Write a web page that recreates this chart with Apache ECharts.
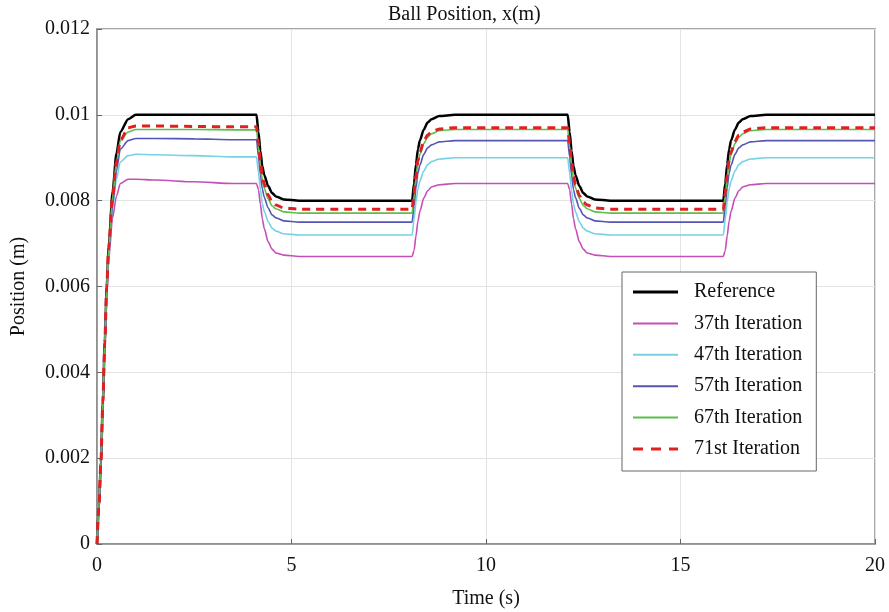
<!DOCTYPE html>
<html>
<head>
<meta charset="utf-8">
<script src="https://cdn.jsdelivr.net/npm/echarts@6/dist/echarts.min.js"></script>
<style>
  html, body { margin: 0; padding: 0; background: #fff; }
  #chart { width: 889px; height: 612px; }
</style>
</head>
<body>
<div id="chart"></div>
<script>
// Sample times (s): initial rise, then a step down / step up every ~4 s
const times = [
  0, 0.05, 0.1, 0.15, 0.2, 0.25, 0.3, 0.4, 0.5, 0.6, 0.8, 1.0, 1.5, 2.5, 3.5,
  4.1, 4.15, 4.2, 4.25, 4.3, 4.4, 4.5, 4.6, 4.8, 5.2, 6.5,
  8.1, 8.15, 8.2, 8.25, 8.3, 8.4, 8.5, 8.6, 8.8, 9.2, 10.5,
  12.1, 12.15, 12.2, 12.25, 12.3, 12.4, 12.5, 12.6, 12.8, 13.2, 14.5,
  16.1, 16.15, 16.2, 16.25, 16.3, 16.4, 16.5, 16.6, 16.8, 17.2, 18.5,
  20
];

// Ball position (m) for each curve at the sample times
const reference = [
  0, 0.0009, 0.0019, 0.0033, 0.0047, 0.0060, 0.0069, 0.0082, 0.0091, 0.0096, 0.0099, 0.0100, 0.0100, 0.0100, 0.0100,
  0.0100, 0.0096, 0.00916, 0.0088, 0.0086, 0.00834, 0.00818, 0.0081, 0.00803, 0.0080, 0.0080,
  0.0080, 0.0084, 0.00884, 0.0092, 0.0094, 0.00966, 0.00982, 0.0099, 0.00997, 0.0100, 0.0100,
  0.0100, 0.0096, 0.00916, 0.0088, 0.0086, 0.00834, 0.00818, 0.0081, 0.00803, 0.0080, 0.0080,
  0.0080, 0.0084, 0.00884, 0.0092, 0.0094, 0.00966, 0.00982, 0.0099, 0.00997, 0.0100, 0.0100,
  0.0100
];
const iter37 = [
  0, 0.0009, 0.0019, 0.0033, 0.0046, 0.0058, 0.0066, 0.0076, 0.0081, 0.0084, 0.0085, 0.0085, 0.00848, 0.00844, 0.0084,
  0.0084, 0.00826, 0.00792, 0.00758, 0.00735, 0.00704, 0.00687, 0.00678, 0.00673, 0.0067, 0.0067,
  0.0067, 0.00684, 0.00718, 0.00752, 0.00775, 0.00806, 0.00823, 0.00832, 0.00837, 0.0084, 0.0084,
  0.0084, 0.00826, 0.00792, 0.00758, 0.00735, 0.00704, 0.00687, 0.00678, 0.00673, 0.0067, 0.0067,
  0.0067, 0.00684, 0.00718, 0.00752, 0.00775, 0.00806, 0.00823, 0.00832, 0.00837, 0.0084, 0.0084,
  0.0084
];
const iter47 = [
  0, 0.0009, 0.0019, 0.0033, 0.0047, 0.0059, 0.0067, 0.0078, 0.0085, 0.0089, 0.00905, 0.00908, 0.00907, 0.00905, 0.00902,
  0.00902, 0.00866, 0.00826, 0.00793, 0.00775, 0.00751, 0.00736, 0.00729, 0.00723, 0.0072, 0.0072,
  0.0072, 0.00756, 0.00796, 0.00828, 0.00846, 0.00869, 0.00884, 0.00891, 0.00897, 0.0090, 0.0090,
  0.0090, 0.00864, 0.00824, 0.00792, 0.00774, 0.00751, 0.00736, 0.00729, 0.00723, 0.0072, 0.0072,
  0.0072, 0.00756, 0.00796, 0.00828, 0.00846, 0.00869, 0.00884, 0.00891, 0.00897, 0.0090, 0.0090,
  0.0090
];
const iter57 = [
  0, 0.0009, 0.0019, 0.0033, 0.0047, 0.0060, 0.0068, 0.0079, 0.0087, 0.0092, 0.0094, 0.00945, 0.00945, 0.00944, 0.00942,
  0.00942, 0.00904, 0.00861, 0.00827, 0.00808, 0.00783, 0.00767, 0.0076, 0.00753, 0.0075, 0.0075,
  0.0075, 0.00788, 0.0083, 0.00864, 0.00883, 0.00908, 0.00923, 0.0093, 0.00937, 0.0094, 0.0094,
  0.0094, 0.00902, 0.0086, 0.00826, 0.00807, 0.00782, 0.00767, 0.0076, 0.00753, 0.0075, 0.0075,
  0.0075, 0.00788, 0.0083, 0.00864, 0.00883, 0.00908, 0.00923, 0.0093, 0.00937, 0.0094, 0.0094,
  0.0094
];
const iter67 = [
  0, 0.0009, 0.0019, 0.0033, 0.0047, 0.0060, 0.0069, 0.0081, 0.0089, 0.0094, 0.0096, 0.00966, 0.00966, 0.00966, 0.00965,
  0.00965, 0.00926, 0.00884, 0.00849, 0.00829, 0.00804, 0.00788, 0.00781, 0.00774, 0.00771, 0.00771,
  0.00771, 0.0081, 0.00853, 0.00888, 0.00908, 0.00933, 0.00948, 0.00956, 0.00963, 0.00966, 0.00966,
  0.00966, 0.00927, 0.00884, 0.0085, 0.0083, 0.00805, 0.00789, 0.00781, 0.00774, 0.00771, 0.00771,
  0.00771, 0.0081, 0.00853, 0.00888, 0.00908, 0.00933, 0.00948, 0.00956, 0.00963, 0.00966, 0.00966,
  0.00966
];
const iter71 = [
  0, 0.0009, 0.0019, 0.0033, 0.0047, 0.0060, 0.0069, 0.0081, 0.0089, 0.0094, 0.0097, 0.00974, 0.00974, 0.00973, 0.00972,
  0.00972, 0.00934, 0.00891, 0.00857, 0.00838, 0.00813, 0.00797, 0.0079, 0.00783, 0.0078, 0.0078,
  0.0078, 0.00818, 0.0086, 0.00894, 0.00913, 0.00938, 0.00953, 0.0096, 0.00967, 0.0097, 0.0097,
  0.0097, 0.00932, 0.0089, 0.00856, 0.00837, 0.00812, 0.00797, 0.0079, 0.00783, 0.0078, 0.0078,
  0.0078, 0.00818, 0.0086, 0.00894, 0.00913, 0.00938, 0.00953, 0.0096, 0.00967, 0.0097, 0.0097,
  0.0097
];

const seriesNames = ['Reference', '37th Iteration', '47th Iteration', '57th Iteration', '67th Iteration', '71st Iteration'];
const seriesValues = [reference, iter37, iter47, iter57, iter67, iter71];
const seriesColors = ['#000000', '#c44fb8', '#74d2e4', '#5555b5', '#5cbf4c', '#e02020'];
const seriesWidths = [2.5, 1.6, 1.6, 1.6, 1.6, 3];
const seriesTypes = ['solid', 'solid', 'solid', 'solid', 'solid', [8, 6]];
// Legend swatches: short line segments (the last one dashed)
const legendIcons = [
  'path://M0,0h45v3h-45z',
  'path://M0,0h45v2h-45z',
  'path://M0,0h45v2h-45z',
  'path://M0,0h45v2h-45z',
  'path://M0,0h45v2h-45z',
  'path://M0,0h10v3h-10zM18,0h10v3h-10zM36,0h9v3h-9z'
];

const xTicks = [0, 5, 10, 15, 20];

const FONT = '"Liberation Serif", "Times New Roman", serif';
const FS = 20;

const chart = echarts.init(document.getElementById('chart'), null, { renderer: 'canvas' });

const series = seriesNames.map((name, i) => ({
  name: name,
  type: 'line',
  symbol: 'none',
  smooth: 0.25,
  smoothMonotone: 'x',
  data: times.map((t, k) => [t, seriesValues[i][k]]),
  lineStyle: { color: seriesColors[i], width: seriesWidths[i], type: seriesTypes[i] },
  itemStyle: { color: seriesColors[i] },
  z: 2 + i
}));

chart.setOption({
  backgroundColor: '#ffffff',
  animation: false,
  title: {
    text: 'Ball Position, x(m)',
    left: 388,
    top: 5,
    padding: 0,
    textStyle: { fontFamily: FONT, fontSize: FS, fontWeight: 'normal', color: '#111' }
  },
  grid: {
    left: 97, right: 14, top: 29, bottom: 68,
    containLabel: false,
    outerBoundsMode: 'none',
    show: true, borderColor: '#8a8a8a', borderWidth: 1.5, backgroundColor: '#fff'
  },
  legend: {
    orient: 'vertical',
    left: 622,
    top: 272,
    padding: [10, 14, 12, 11],
    itemWidth: 45,
    itemHeight: 3,
    itemGap: 11.4,
    backgroundColor: '#fff',
    borderColor: '#666',
    borderWidth: 1,
    itemStyle: { borderWidth: 0 },
    textStyle: { fontFamily: FONT, fontSize: FS, color: '#111', padding: [0, 0, 0, 11] },
    data: seriesNames.map((n, i) => ({ name: n, icon: legendIcons[i] }))
  },
  xAxis: {
    type: 'value',
    min: 0, max: 20, interval: 5,
    name: 'Time (s)',
    nameLocation: 'middle',
    nameGap: 45,
    nameTextStyle: { fontFamily: FONT, fontSize: FS, color: '#111' },
    axisLine: { show: true, lineStyle: { color: '#8a8a8a', width: 1.5 } },
    axisTick: { show: true, inside: true, length: 5, lineStyle: { color: '#666' } },
    axisLabel: {
      margin: 12,
      fontFamily: FONT, fontSize: FS, color: '#111',
      customValues: xTicks
    },
    splitLine: { show: true, lineStyle: { color: '#e3e3e3', width: 1 } }
  },
  yAxis: {
    type: 'value',
    min: 0, max: 0.012, interval: 0.002,
    name: 'Position (m)',
    nameLocation: 'middle',
    nameGap: 68,
    nameTextStyle: { fontFamily: FONT, fontSize: FS, color: '#111' },
    axisLine: { show: true, lineStyle: { color: '#8a8a8a', width: 1.5 } },
    axisTick: { show: true, inside: true, length: 5, lineStyle: { color: '#666' } },
    axisLabel: {
      margin: 7,
      fontFamily: FONT, fontSize: FS, color: '#111',
      formatter: v => String(parseFloat(v.toFixed(4)))
    },
    splitLine: { show: true, lineStyle: { color: '#e3e3e3', width: 1 } }
  },
  series: series
});
</script>
</body>
</html>
